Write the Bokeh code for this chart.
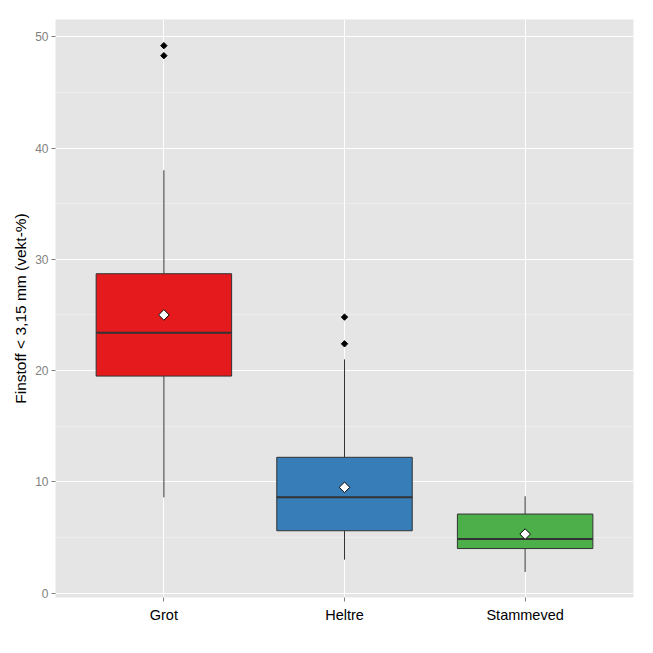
import math
from bokeh.plotting import figure
from bokeh.models import FactorRange, Range1d, SingleIntervalTicker, ColumnDataSource
from bokeh.transform import dodge
from bokeh.embed import file_html
from bokeh.resources import INLINE

categories = ["Grot", "Heltre", "Stammeved"]
colors = ["#E41A1C", "#377EB8", "#4DAF4A"]
lower_whisker = [8.6, 3.0, 1.9]
q1 = [19.5, 5.6, 4.0]
median = [23.4, 8.6, 4.85]
q3 = [28.7, 12.2, 7.1]
upper_whisker = [38.0, 21.0, 8.7]
means = [25.0, 9.5, 5.3]
outlier_cat = ["Grot", "Grot", "Heltre", "Heltre"]
outlier_val = [49.2, 48.3, 24.8, 22.4]

p = figure(x_range=FactorRange(factors=categories, range_padding=0.1,
                               range_padding_units="absolute"),
           y_range=Range1d(-0.4, 51.55),
           width=653, height=653, output_backend="svg", toolbar_location=None,
           min_border_left=55, min_border_right=20, min_border_top=19, min_border_bottom=56)

p.background_fill_color = "#E5E5E5"
p.border_fill_color = "white"
p.outline_line_color = None

p.yaxis.ticker = SingleIntervalTicker(interval=10, num_minor_ticks=2)
p.ygrid.grid_line_color = "white"
p.ygrid.grid_line_width = 1
p.ygrid.minor_grid_line_color = "#F2F2F2"
p.ygrid.minor_grid_line_width = 0.6
p.xgrid.grid_line_color = "white"
p.xgrid.grid_line_width = 1

for ax in (p.xaxis, p.yaxis):
    ax.axis_line_color = None
    ax.major_tick_line_color = "#7F7F7F"
    ax.major_tick_out = 4
    ax.major_tick_in = 0
    ax.minor_tick_line_color = None
    ax.major_label_text_font = "Liberation Sans"

p.yaxis.major_label_text_color = "#7F7F7F"
p.yaxis.major_label_text_font_size = "12px"
p.yaxis.major_label_standoff = 3
p.yaxis.axis_label = "Finstoff < 3,15 mm (vekt-%)"
p.yaxis.axis_label_text_font = "Liberation Sans"
p.yaxis.axis_label_text_font_style = "normal"
p.yaxis.axis_label_text_font_size = "15.5px"
p.yaxis.axis_label_text_color = "black"
p.yaxis.axis_label_standoff = 3

p.xaxis.major_label_text_color = "black"
p.xaxis.major_label_text_font_size = "14.5px"
p.xaxis.major_label_standoff = 5

src = ColumnDataSource(dict(cat=categories, color=colors, lw=lower_whisker, q1=q1,
                            med=median, q3=q3, uw=upper_whisker, mean=means))

p.segment(x0="cat", y0="q3", x1="cat", y1="uw", source=src, line_color="#333333", line_width=1)
p.segment(x0="cat", y0="lw", x1="cat", y1="q1", source=src, line_color="#333333", line_width=1)
p.vbar(x="cat", width=0.75, bottom="q1", top="q3", source=src, fill_color="color",
       line_color="#333333", line_width=1)
p.segment(x0=dodge("cat", -0.375, range=p.x_range), y0="med",
          x1=dodge("cat", 0.375, range=p.x_range), y1="med",
          source=src, line_color="#333333", line_width=2)
p.scatter(x=outlier_cat, y=outlier_val, marker="square", size=4.5, angle=math.pi / 4,
          color="black")
p.scatter(x="cat", y="mean", source=src, marker="square", size=7.5, angle=math.pi / 4,
          fill_color="white", line_color="black", line_width=1)

open("out.html", "w").write(file_html(p, INLINE))
